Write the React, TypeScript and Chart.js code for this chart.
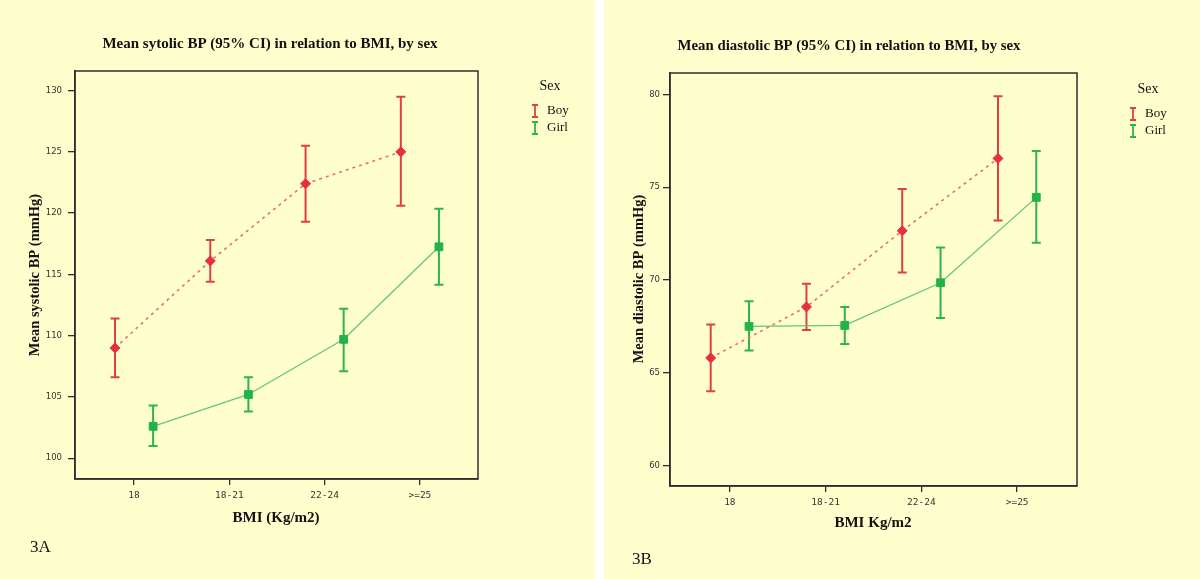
import React, { useEffect, useRef } from "react";
import { Chart, registerables } from "chart.js";

Chart.register(...registerables);

// ---------- data ----------
const categories = ["18", "18-21", "22-24", ">=25"];

const sysBoyMean = [109.0, 116.1, 122.4, 125.0];
const sysBoyLow = [106.6, 114.4, 119.3, 120.6];
const sysBoyHigh = [111.4, 117.8, 125.5, 129.5];
const sysGirlMean = [102.6, 105.2, 109.7, 117.25];
const sysGirlLow = [101.0, 103.8, 107.1, 114.15];
const sysGirlHigh = [104.3, 106.6, 112.2, 120.35];
const sysTicks = [100, 105, 110, 115, 120, 125, 130];

const diaBoyMean = [65.8, 68.55, 72.65, 76.55];
const diaBoyLow = [64.0, 67.3, 70.4, 73.2];
const diaBoyHigh = [67.6, 69.8, 74.9, 79.9];
const diaGirlMean = [67.5, 67.55, 69.85, 74.45];
const diaGirlLow = [66.2, 66.55, 67.95, 72.0];
const diaGirlHigh = [68.85, 68.55, 71.75, 76.95];
const diaTicks = [60, 65, 70, 75, 80];

const seriesNames = ["Boy", "Girl"];

// ---------- styles ----------
const BG = "#FFFFCD";
const FRAME = "#2e2e2e";
const RED_PT = "#E8303C";
const RED_BAR = "#E2403F";
const RED_LINE = "#E87068";
const GREEN_PT = "#22B24A";
const GREEN_BAR = "#2DB44C";
const GREEN_LINE = "#62C872";
const BOY_OFFSET = -0.2;
const GIRL_OFFSET = 0.2;
const SERIF = "'Liberation Serif', 'DejaVu Serif', serif";

const decorPlugin = {
  id: "decor",
  beforeDraw(chart: any) {
    const { ctx, width, height } = chart;
    ctx.save();
    ctx.fillStyle = BG;
    ctx.fillRect(0, 0, width, height);
    ctx.restore();
  },
  beforeDatasetsDraw(chart: any) {
    const { ctx } = chart;
    const yScale = chart.scales.y;
    chart.data.datasets.forEach((ds: any, i: number) => {
      const meta = chart.getDatasetMeta(i);
      ctx.save();
      ctx.strokeStyle = ds.errColor;
      ctx.lineWidth = 2;
      meta.data.forEach((pt: any, j: number) => {
        const x = pt.x;
        const yl = yScale.getPixelForValue(ds.errLow[j]);
        const yh = yScale.getPixelForValue(ds.errHigh[j]);
        ctx.beginPath();
        ctx.moveTo(x, yl);
        ctx.lineTo(x, yh);
        ctx.moveTo(x - 4.5, yl);
        ctx.lineTo(x + 4.5, yl);
        ctx.moveTo(x - 4.5, yh);
        ctx.lineTo(x + 4.5, yh);
        ctx.stroke();
      });
      ctx.restore();
    });
  },
  afterDraw(chart: any, _args: any, opts: any) {
    const { ctx, chartArea } = chart;
    ctx.save();
    // frame
    ctx.strokeStyle = FRAME;
    ctx.lineWidth = 1.5;
    ctx.strokeRect(chartArea.left, chartArea.top, chartArea.right - chartArea.left, chartArea.bottom - chartArea.top);

    ctx.fillStyle = "#111";
    ctx.textBaseline = "middle";
    // title
    ctx.font = `bold ${opts.titleSize}px ${SERIF}`;
    ctx.textAlign = "center";
    ctx.fillText(opts.title, opts.titlePos[0], opts.titlePos[1]);
    // x title
    ctx.font = `bold 15px ${SERIF}`;
    ctx.fillText(opts.xTitle, opts.xTitlePos[0], opts.xTitlePos[1]);
    // y title
    ctx.save();
    ctx.translate(opts.yTitlePos[0], opts.yTitlePos[1]);
    ctx.rotate(-Math.PI / 2);
    ctx.font = `bold 14.5px ${SERIF}`;
    ctx.fillText(opts.yTitle, 0, 0);
    ctx.restore();
    // panel label
    ctx.font = `17px ${SERIF}`;
    ctx.textAlign = "left";
    ctx.fillText(opts.label, opts.labelPos[0], opts.labelPos[1]);
    // legend
    const [lx, ly] = opts.legendPos;
    ctx.font = `14px ${SERIF}`;
    ctx.textAlign = "center";
    ctx.fillText("Sex", lx + 15, ly);
    const cols = [RED_BAR, GREEN_BAR];
    seriesNames.forEach((name, k) => {
      const cy = ly + 25 + k * 17;
      ctx.strokeStyle = cols[k];
      ctx.lineWidth = 1.8;
      ctx.beginPath();
      ctx.moveTo(lx, cy - 6);
      ctx.lineTo(lx, cy + 6);
      ctx.moveTo(lx - 3, cy - 6);
      ctx.lineTo(lx + 3, cy - 6);
      ctx.moveTo(lx - 3, cy + 6);
      ctx.lineTo(lx + 3, cy + 6);
      ctx.stroke();
      ctx.font = `13px ${SERIF}`;
      ctx.textAlign = "left";
      ctx.fillText(name, lx + 12, cy);
    });
    ctx.restore();
  },
};

type PanelProps = {
  width: number;
  height: number;
  padding: { left: number; top: number; right: number; bottom: number };
  yWidth: number;
  xHeight: number;
  yLabelPad: number;
  xMin: number;
  xMax: number;
  yMin: number;
  yMax: number;
  yTicks: number[];
  boy: number[][];
  girl: number[][];
  decor: any;
};

function Panel(p: PanelProps) {
  const ref = useRef<HTMLCanvasElement | null>(null);
  useEffect(() => {
    if (!ref.current) return;
    const mk = (mean: number[], off: number) => mean.map((v, i) => ({ x: i + off, y: v }));
    const chart = new Chart(ref.current, {
      type: "line",
      data: {
        datasets: [
          {
            label: seriesNames[0],
            data: mk(p.boy[0], BOY_OFFSET),
            borderColor: RED_LINE,
            borderWidth: 1.6,
            borderDash: [3, 4],
            pointStyle: "rectRot",
            pointRadius: 5,
            pointBackgroundColor: RED_PT,
            pointBorderColor: RED_PT,
            pointBorderWidth: 1,
            errLow: p.boy[1],
            errHigh: p.boy[2],
            errColor: RED_BAR,
          } as any,
          {
            label: seriesNames[1],
            data: mk(p.girl[0], GIRL_OFFSET),
            borderColor: GREEN_LINE,
            borderWidth: 1.3,
            pointStyle: "rect",
            pointRadius: 5.5,
            pointBackgroundColor: GREEN_PT,
            pointBorderColor: GREEN_PT,
            pointBorderWidth: 1,
            errLow: p.girl[1],
            errHigh: p.girl[2],
            errColor: GREEN_BAR,
          } as any,
        ],
      },
      options: {
        animation: false,
        responsive: false,
        maintainAspectRatio: false,
        layout: { padding: p.padding },
        plugins: {
          legend: { display: false },
          tooltip: { enabled: false },
          title: { display: false },
          decor: p.decor,
        } as any,
        scales: {
          x: {
            type: "linear",
            min: p.xMin,
            max: p.xMax,
            afterBuildTicks: (s: any) => {
              s.ticks = categories.map((_, i) => ({ value: i }));
            },
            afterFit: (s: any) => {
              s.height = p.xHeight;
            },
            ticks: {
              autoSkip: false,
              maxRotation: 0,
              padding: 5,
              color: "#333",
              font: { family: "'DejaVu Sans Mono', monospace", size: 9.5 },
              callback: (v: any) => categories[Math.round(Number(v))] ?? "",
            },
            grid: {
              drawOnChartArea: false,
              drawTicks: true,
              tickLength: 6,
              color: FRAME,
              lineWidth: 1.3,
            },
            border: { display: true, color: FRAME, width: 1.5 },
          },
          y: {
            type: "linear",
            min: p.yMin,
            max: p.yMax,
            afterBuildTicks: (s: any) => {
              s.ticks = p.yTicks.map((v) => ({ value: v }));
            },
            afterFit: (s: any) => {
              s.width = p.yWidth;
            },
            ticks: {
              padding: p.yLabelPad,
              color: "#333",
              font: { family: "'DejaVu Sans', sans-serif", size: 8.5 },
            },
            grid: {
              drawOnChartArea: false,
              drawTicks: true,
              tickLength: 7,
              color: FRAME,
              lineWidth: 1.3,
            },
            border: { display: true, color: FRAME, width: 1.5 },
          },
        },
      },
      plugins: [decorPlugin as any],
    });
    return () => chart.destroy();
  }, []);
  return <canvas ref={ref} width={p.width} height={p.height} style={{ display: "block", width: p.width, height: p.height }} />;
}

export default function App() {
  return (
    <div style={{ position: "fixed", left: 0, top: 0, width: 1200, height: 579, background: "#ffffff", overflow: "hidden" }}>
      <div style={{ position: "absolute", left: 0, top: 0 }}>
        <Panel
          width={595}
          height={579}
          padding={{ left: 0, top: 71, right: 117, bottom: 0 }}
          yWidth={75}
          xHeight={100}
          yLabelPad={6}
          xMin={-0.62}
          xMax={3.61}
          yMin={98.3}
          yMax={131.6}
          yTicks={sysTicks}
          boy={[sysBoyMean, sysBoyLow, sysBoyHigh]}
          girl={[sysGirlMean, sysGirlLow, sysGirlHigh]}
          decor={{
            title: "Mean sytolic BP (95% CI) in relation to BMI, by sex",
            titleSize: 15,
            titlePos: [270, 44],
            xTitle: "BMI (Kg/m2)",
            xTitlePos: [276, 518],
            yTitle: "Mean systolic BP (mmHg)",
            yTitlePos: [35, 275],
            label: "3A",
            labelPos: [30, 548],
            legendPos: [535, 86],
          }}
        />
      </div>
      <div style={{ position: "absolute", left: 604, top: 0 }}>
        <Panel
          width={596}
          height={579}
          padding={{ left: 0, top: 73, right: 123, bottom: 0 }}
          yWidth={66}
          xHeight={93}
          yLabelPad={3}
          xMin={-0.625}
          xMax={3.625}
          yMin={58.9}
          yMax={81.15}
          yTicks={diaTicks}
          boy={[diaBoyMean, diaBoyLow, diaBoyHigh]}
          girl={[diaGirlMean, diaGirlLow, diaGirlHigh]}
          decor={{
            title: "Mean diastolic BP (95% CI) in relation to BMI, by sex",
            titleSize: 14.8,
            titlePos: [245, 46],
            xTitle: "BMI Kg/m2",
            xTitlePos: [269, 523],
            yTitle: "Mean diastolic BP (mmHg)",
            yTitlePos: [35, 279],
            label: "3B",
            labelPos: [28, 560],
            legendPos: [529, 89],
          }}
        />
      </div>
    </div>
  );
}
